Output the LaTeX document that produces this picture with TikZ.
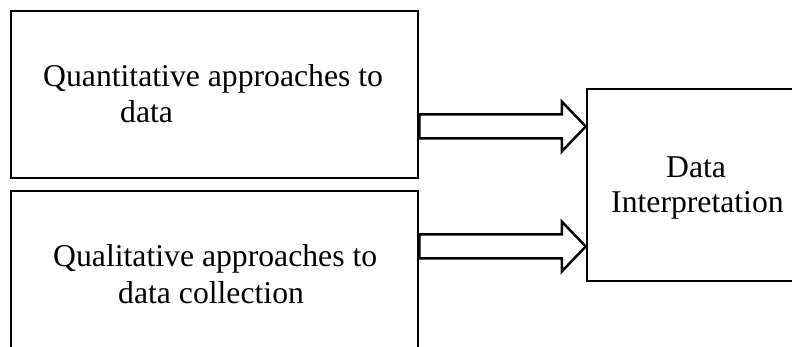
\documentclass[tikz,border=0pt]{standalone}
\usepackage{fontspec}
\setmainfont{Liberation Serif}
\usepackage{tikz}
\usetikzlibrary{positioning, calc}
\definecolor{inkblack}{HTML}{000000}

% block arrow between two points at the same height
\newcommand{\blockarrow}[2]{%
  \draw[barr] ($(#1)+(0,-12)$) -- ($(#2)+(-24,-12)$) -- ++(0,-13) -- (#2)
    -- ($(#2)+(-24,25)$) -- ++(0,-13) -- ($(#1)+(0,12)$) -- cycle;}

\begin{document}
\begin{tikzpicture}[
  x=1pt, y=-1pt,
  frame/.style={rectangle, draw=inkblack, line width=2.5pt, inner sep=0pt},
  txt/.style={anchor=base west, inner sep=0pt,
              font=\fontsize{31.7}{38}\selectfont},
  barr/.style={draw=inkblack, fill=white, line width=2.5pt, miter limit=10}
]
\clip (0,0) rectangle (792,347);

\node[frame, minimum width=407pt, minimum height=167pt] (quant) at (214.5,94.5) {};
\node[frame, minimum width=407pt, minimum height=180pt] (qual)  at (214.5,281) {};
\node[frame, minimum width=220pt, minimum height=192pt] (interp) at (697,185) {};

\node[txt] (quant1) at (43,87)  {Quantitative approaches to};
\node[txt] (quant2) at (120,123) {data};
\node[txt] (qual1)  at (53,267)  {Qualitative approaches to};
\node[txt] (qual2)  at (118,303) {data collection};
\node[txt] (interp1) at (666,178) {Data};
\node[txt] (interp2) at (611,213) {Interpretation};

\coordinate (a1) at (quant.east |- 0,126.5);
\coordinate (b1) at (interp.west |- 0,126.5);
\coordinate (a2) at (qual.east |- 0,246.5);
\coordinate (b2) at (interp.west |- 0,246.5);
\blockarrow{a1}{b1}
\blockarrow{a2}{b2}
\end{tikzpicture}
\end{document}
